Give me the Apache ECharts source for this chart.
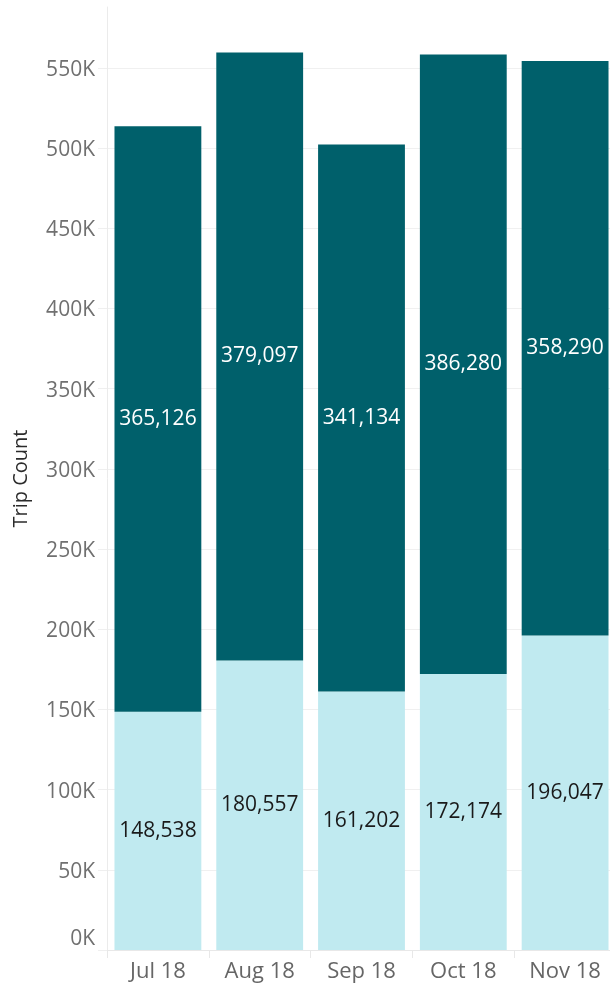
<!DOCTYPE html>
<html>
<head>
<meta charset="utf-8">
<script src="https://cdn.jsdelivr.net/npm/echarts@6/dist/echarts.min.js"></script>
<style>
  html, body { margin: 0; padding: 0; background: #fff; overflow: hidden; }
  /* the canvas is a bit wider than the view, so the last column is clipped at the edge */
  #chart { width: 620px; height: 986px; }
</style>
</head>
<body>
<div id="chart"></div>
<script>
// Monthly trip counts, stacked: lower segment and upper segment
const months = ['Jul 18', 'Aug 18', 'Sep 18', 'Oct 18', 'Nov 18'];
const lowerTrips = [148538, 180557, 161202, 172174, 196047];
const upperTrips = [365126, 379097, 341134, 386280, 358290];
const yTickStep = 50000;

const FONT = '"Open Sans", "Noto Sans", sans-serif';
const fmtNum = v => v.toLocaleString('en-US');

const chart = echarts.init(document.getElementById('chart'), null, { renderer: 'canvas' });

chart.setOption({
  animation: false,
  backgroundColor: '#ffffff',
  grid: { left: 107, right: 4, top: 7, bottom: 36, containLabel: false, outerBoundsMode: 'none' },
  xAxis: {
    type: 'category',
    data: months,
    axisLine: { show: true, lineStyle: { color: '#e8e8e8', width: 1 } },
    axisTick: { show: true, length: 8, lineStyle: { color: '#e8e8e8' } },
    axisLabel: { color: '#666666', fontFamily: FONT, fontSize: 22, margin: 11 },
    splitLine: { show: false }
  },
  yAxis: {
    type: 'value',
    min: 0,
    max: 588000,
    interval: yTickStep,
    name: 'Trip Count',
    nameLocation: 'middle',
    nameRotate: 90,
    nameGap: 76,
    nameTextStyle: { color: '#2b2b2b', fontFamily: FONT, fontSize: 20 },
    axisLine: { show: true, lineStyle: { color: '#ebebeb', width: 1 } },
    axisTick: { show: true, length: 9, lineStyle: { color: '#efefef' } },
    axisLabel: {
      color: '#707070',
      fontFamily: FONT,
      fontSize: 21,
      margin: 12,
      showMaxLabel: false,
      formatter: v => {
        if (v % yTickStep !== 0) return '';
        return v === 0 ? '{z|0K}' : '{n|' + (v / 1000) + 'K}';
      },
      rich: {
        n: { color: '#707070', fontFamily: FONT, fontSize: 21, padding: [4, 0, 0, 0] },
        z: { color: '#707070', fontFamily: FONT, fontSize: 21, padding: [0, 0, 22, 0] }
      }
    },
    splitLine: { show: true, showMaxLine: false, lineStyle: { color: '#f0f0f0', width: 1 } }
  },
  series: [
    {
      name: 'Lower',
      type: 'bar',
      stack: 'trips',
      data: lowerTrips,
      barCategoryGap: '14.7%',
      itemStyle: { color: '#c0eaf0' },
      label: {
        show: true, position: 'inside', color: '#1a1a1a',
        fontFamily: FONT, fontSize: 21,
        formatter: p => fmtNum(p.value)
      }
    },
    {
      name: 'Upper',
      type: 'bar',
      stack: 'trips',
      data: upperTrips,
      barCategoryGap: '14.7%',
      itemStyle: { color: '#00606b' },
      label: {
        show: true, position: 'inside', color: '#ffffff',
        fontFamily: FONT, fontSize: 21,
        formatter: p => fmtNum(p.value)
      }
    }
  ]
});
</script>
</body>
</html>
